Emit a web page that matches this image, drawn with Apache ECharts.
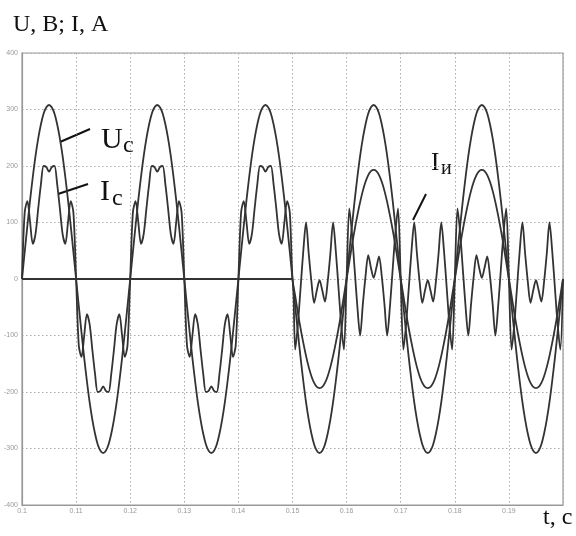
<!DOCTYPE html>
<html>
<head>
<meta charset="utf-8">
<script src="https://cdn.jsdelivr.net/npm/echarts@6/dist/echarts.min.js"></script>
<style>
  html, body { margin: 0; padding: 0; background: #fff; }
  #chart { width: 576px; height: 536px; }
</style>
</head>
<body>
<div id="chart"></div>
<script>
// sampling of the waveforms: t = T0 + i * DT
const T0 = 0.1
const DT = 0.0005

const xTicks = [0.1, 0.11, 0.12, 0.13, 0.14, 0.15, 0.16, 0.17, 0.18, 0.19]
const yTicks = [-400, -300, -200, -100, 0, 100, 200, 300, 400]

// Uc, voltage
const uc = [
  0, 48, 95, 140, 181, 218, 249, 274, 293, 304, 308, 304, 293, 274, 249, 218, 181, 140, 95, 48,
  0, -48, -95, -140, -181, -218, -249, -274, -293, -304, -308, -304, -293, -274, -249, -218, -181, -140, -95, -48,
  0, 48, 95, 140, 181, 218, 249, 274, 293, 304, 308, 304, 293, 274, 249, 218, 181, 140, 95, 48,
  0, -48, -95, -140, -181, -218, -249, -274, -293, -304, -308, -304, -293, -274, -249, -218, -181, -140, -95, -48,
  0, 48, 95, 140, 181, 218, 249, 274, 293, 304, 308, 304, 293, 274, 249, 218, 181, 140, 95, 48,
  0, -48, -95, -140, -181, -218, -249, -274, -293, -304, -308, -304, -293, -274, -249, -218, -181, -140, -95, -48,
  0, 48, 95, 140, 181, 218, 249, 274, 293, 304, 308, 304, 293, 274, 249, 218, 181, 140, 95, 48,
  0, -48, -95, -140, -181, -218, -249, -274, -293, -304, -308, -304, -293, -274, -249, -218, -181, -140, -95, -48,
  0, 48, 95, 140, 181, 218, 249, 274, 293, 304, 308, 304, 293, 274, 249, 218, 181, 140, 95, 48,
  0, -48, -95, -140, -181, -218, -249, -274, -293, -304, -308, -304, -293, -274, -249, -218, -181, -140, -95, -48,
  0
]

// Ic, source current (distorted until 0.15, sinusoidal after)
const ic = [
  0, 118, 138, 100, 62, 80, 125, 168, 200, 198, 190, 198, 200, 168, 125, 80, 62, 100, 138, 118,
  0, -118, -138, -100, -62, -80, -125, -168, -200, -198, -190, -198, -200, -168, -125, -80, -62, -100, -138, -118,
  0, 118, 138, 100, 62, 80, 125, 168, 200, 198, 190, 198, 200, 168, 125, 80, 62, 100, 138, 118,
  0, -118, -138, -100, -62, -80, -125, -168, -200, -198, -190, -198, -200, -168, -125, -80, -62, -100, -138, -118,
  0, 118, 138, 100, 62, 80, 125, 168, 200, 198, 190, 198, 200, 168, 125, 80, 62, 100, 138, 118,
  0, -30, -60, -88, -113, -136, -156, -172, -184, -191, -193, -191, -184, -172, -156, -136, -113, -88, -60, -30,
  0, 30, 60, 88, 113, 136, 156, 172, 184, 191, 193, 191, 184, 172, 156, 136, 113, 88, 60, 30,
  0, -30, -60, -88, -113, -136, -156, -172, -184, -191, -193, -191, -184, -172, -156, -136, -113, -88, -60, -30,
  0, 30, 60, 88, 113, 136, 156, 172, 184, 191, 193, 191, 184, 172, 156, 136, 113, 88, 60, 30,
  0, -30, -60, -88, -113, -136, -156, -172, -184, -191, -193, -191, -184, -172, -156, -136, -113, -88, -60, -30,
  0
]

// Iи, inverter current (off until 0.15)
const ii = [
  0, 0, 0, 0, 0, 0, 0, 0, 0, 0, 0, 0, 0, 0, 0, 0, 0, 0, 0, 0,
  0, 0, 0, 0, 0, 0, 0, 0, 0, 0, 0, 0, 0, 0, 0, 0, 0, 0, 0, 0,
  0, 0, 0, 0, 0, 0, 0, 0, 0, 0, 0, 0, 0, 0, 0, 0, 0, 0, 0, 0,
  0, 0, 0, 0, 0, 0, 0, 0, 0, 0, 0, 0, 0, 0, 0, 0, 0, 0, 0, 0,
  0, 0, 0, 0, 0, 0, 0, 0, 0, 0, 0, 0, 0, 0, 0, 0, 0, 0, 0, 0,
  0, -125, -80, -15, 50, 100, 45, -5, -42, -20, -2, -20, -40, -5, 45, 100, 50, -15, -80, -125,
  0, 125, 80, 15, -50, -100, -45, 5, 42, 20, 2, 20, 40, 5, -45, -100, -50, 15, 80, 125,
  0, -125, -80, -15, 50, 100, 45, -5, -42, -20, -2, -20, -40, -5, 45, 100, 50, -15, -80, -125,
  0, 125, 80, 15, -50, -100, -45, 5, 42, 20, 2, 20, 40, 5, -45, -100, -50, 15, 80, 125,
  0, -125, -80, -15, 50, 100, 45, -5, -42, -20, -2, -20, -40, -5, 45, 100, 50, -15, -80, -125,
  0
]

const toPoints = (arr) => arr.map((v, i) => [T0 + i * DT, v])

const serif = 'Liberation Serif'
const label = (text, x, y, size) => ({
  type: 'text', x, y,
  style: { text, fill: '#111', font: size + 'px "' + serif + '"', verticalAlign: 'middle' },
})
const leader = (x1, y1, x2, y2) => ({
  type: 'line',
  shape: { x1, y1, x2, y2 },
  style: { stroke: '#111', lineWidth: 2 },
})

const chart = echarts.init(document.getElementById('chart'))

const wave = (name, arr, width) => ({
  name,
  type: 'line',
  data: toPoints(arr),
  showSymbol: false,
  smooth: 0.3,
  lineStyle: { color: '#333', width },
})

chart.setOption({
  animation: false,
  backgroundColor: '#fff',
  grid: {
    left: 22, right: 13, top: 53, bottom: 31,
    show: true, borderColor: '#999', borderWidth: 1.2,
    outerBoundsMode: 'none',
  },
  xAxis: {
    type: 'value',
    min: 0.1, max: 0.2, interval: 0.01,
    axisLine: { onZero: false, lineStyle: { color: '#999', width: 1.2 } },
    axisTick: { show: false },
    axisLabel: {
      fontSize: 7, color: '#999', margin: 3,
      formatter: (v) => {
        const s = String(+v.toFixed(2))
        return xTicks.includes(+s) ? s : ''
      },
    },
    splitLine: { lineStyle: { color: '#aaa', type: [1.5, 2.5], width: 1 } },
  },
  yAxis: {
    type: 'value',
    min: -400, max: 400, interval: 100,
    axisLine: { show: true, onZero: false, lineStyle: { color: '#999', width: 1.2 } },
    axisTick: { show: false },
    axisLabel: {
      fontSize: 7, color: '#999', margin: 4,
      formatter: (v) => (yTicks.includes(v) ? String(v) : ''),
    },
    splitLine: { lineStyle: { color: '#aaa', type: [1.5, 2.5], width: 1 } },
  },
  series: [
    wave('Uc', uc, 1.8),
    wave('Ic', ic, 1.8),
    wave('Iи', ii, 1.8),
  ],
  graphic: [
    label('U, B; I, A', 13, 25, 24),
    label('U', 101, 140, 30),
    label('c', 123, 146, 24),
    label('I', 100, 192, 30),
    label('c', 112, 199, 24),
    label('I', 431, 163, 25),
    label('и', 441, 169, 20),
    label('t, c', 543, 518, 24),
    leader(60, 142, 90, 129),
    leader(58, 194, 88, 184),
    leader(413, 220, 426, 194),
  ],
})
</script>
</body>
</html>
